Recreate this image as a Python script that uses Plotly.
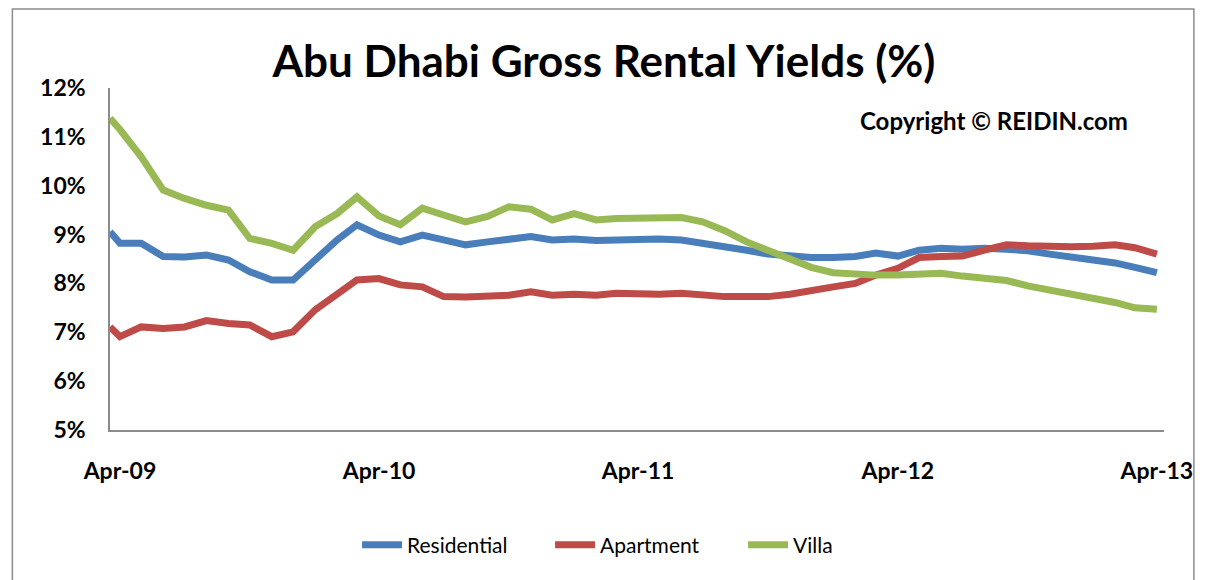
import pandas as pd
import plotly.graph_objects as go

# first reading sits on the axis, then mid-month readings Apr-09 .. Apr-13
dates = [pd.Timestamp("2009-04-01")] + list(
    pd.date_range("2009-04-01", "2013-04-01", freq="MS") + pd.Timedelta(days=14)
)

residential = [9.06, 8.82, 8.82, 8.55, 8.54, 8.58, 8.48, 8.24, 8.07, 8.07, 8.48, 8.89, 9.20,
               8.99, 8.85, 8.99, 8.89, 8.79, 8.85, 8.90, 8.96, 8.89, 8.91, 8.88, 8.89,
               8.91, 8.91, 8.89, 8.83, 8.77, 8.68, 8.60, 8.55, 8.53, 8.53, 8.55, 8.62,
               8.56, 8.68, 8.72, 8.70, 8.72, 8.70, 8.67, 8.60, 8.55, 8.49, 8.42, 8.33, 8.22]
apartment = [7.11, 6.91, 7.11, 7.08, 7.11, 7.24, 7.18, 7.15, 6.91, 7.01, 7.46, 7.80, 8.07,
             8.10, 7.97, 7.93, 7.73, 7.72, 7.73, 7.76, 7.83, 7.76, 7.78, 7.76, 7.80,
             7.78, 7.78, 7.80, 7.76, 7.73, 7.73, 7.73, 7.78, 7.87, 7.93, 8.00, 8.17,
             8.31, 8.53, 8.55, 8.56, 8.68, 8.79, 8.77, 8.75, 8.75, 8.76, 8.79, 8.73, 8.60]
villa = [11.38, 11.15, 10.59, 9.91, 9.74, 9.60, 9.50, 8.92, 8.82, 8.68, 9.16, 9.43, 9.77,
         9.38, 9.20, 9.54, 9.40, 9.26, 9.37, 9.57, 9.52, 9.30, 9.43, 9.30, 9.33,
         9.34, 9.35, 9.35, 9.26, 9.08, 8.85, 8.67, 8.48, 8.33, 8.22, 8.19, 8.17,
         8.17, 8.19, 8.21, 8.15, 8.10, 8.06, 7.95, 7.87, 7.78, 7.70, 7.61, 7.50, 7.47]

series_names = ["Residential", "Apartment", "Villa"]
colors = ["#4a7ebb", "#be4b48", "#98b954"]

tick_dates = ["2009-04-15", "2010-04-15", "2011-04-15", "2012-04-15", "2013-04-15"]
tick_labels = ["Apr-09", "Apr-10", "Apr-11", "Apr-12", "Apr-13"]

# the page body adds an 8px margin, so work in figure coords (screen - 8)
off = 8
W, H = 1205 - off, 580 - off
ml, mt = 110 - off, 88 - off
mr = W - (1168 - off)
mb = H - (430 - off)
pw, ph = W - ml - mr, H - mt - mb


def px(x):
    return (x - off - ml) / pw


def py(y):
    return (H - mb - (y - off)) / ph


fig = go.Figure()
for name, vals, col in zip(series_names, [residential, apartment, villa], colors):
    fig.add_trace(go.Scatter(x=dates, y=vals, name=name, mode="lines",
                             line=dict(color=col, width=7)))

font = "Lato, 'Open Sans', sans-serif"
fig.update_layout(
    width=W, height=H,
    margin=dict(l=ml, r=mr, t=mt, b=mb),
    paper_bgcolor="white", plot_bgcolor="white",
    font=dict(family=font, color="black"),
    title=dict(text="<b>Abu Dhabi Gross Rental Yields (%)</b>", x=(604 - off) / W, xanchor="center",
               y=1 - (62 - off) / H, yanchor="middle", font=dict(size=44, color="black")),
    xaxis=dict(type="date", range=["2009-04-01", "2013-04-25"],
               tickvals=tick_dates, ticktext=["<b>%s</b>" % t for t in tick_labels],
               tickfont=dict(size=23), showgrid=False, zeroline=False,
               showline=True, linecolor="#8c8c8c", linewidth=1.5, ticks="",
               ticklabelstandoff=20),
    yaxis=dict(range=[5, 12], dtick=1, ticksuffix="%", tickprefix="<b>",
               tickfont=dict(size=23), showgrid=False, zeroline=False,
               showline=True, linecolor="#8c8c8c", linewidth=1.5, ticks="",
               ticklabelstandoff=18),
    showlegend=True,
    legend=dict(orientation="h", x=px(358), xanchor="left", y=py(545),
                yanchor="middle", font=dict(size=21), itemwidth=40,
                entrywidth=138, entrywidthmode="pixels",
                traceorder="normal"),
)

fig.add_annotation(text="<b>Copyright © REIDIN.com</b>", xref="paper", yref="paper",
                   x=px(997), y=py(120), xanchor="center", yanchor="middle",
                   showarrow=False, font=dict(size=24, color="black"))

# outer chart frame
fig.add_shape(type="rect", xref="paper", yref="paper",
              x0=px(12), x1=px(1198), y0=py(600), y1=py(off + 1),
              line=dict(color="#8c8c8c", width=1.5), fillcolor="rgba(0,0,0,0)")

fig.write_html("out.html")
